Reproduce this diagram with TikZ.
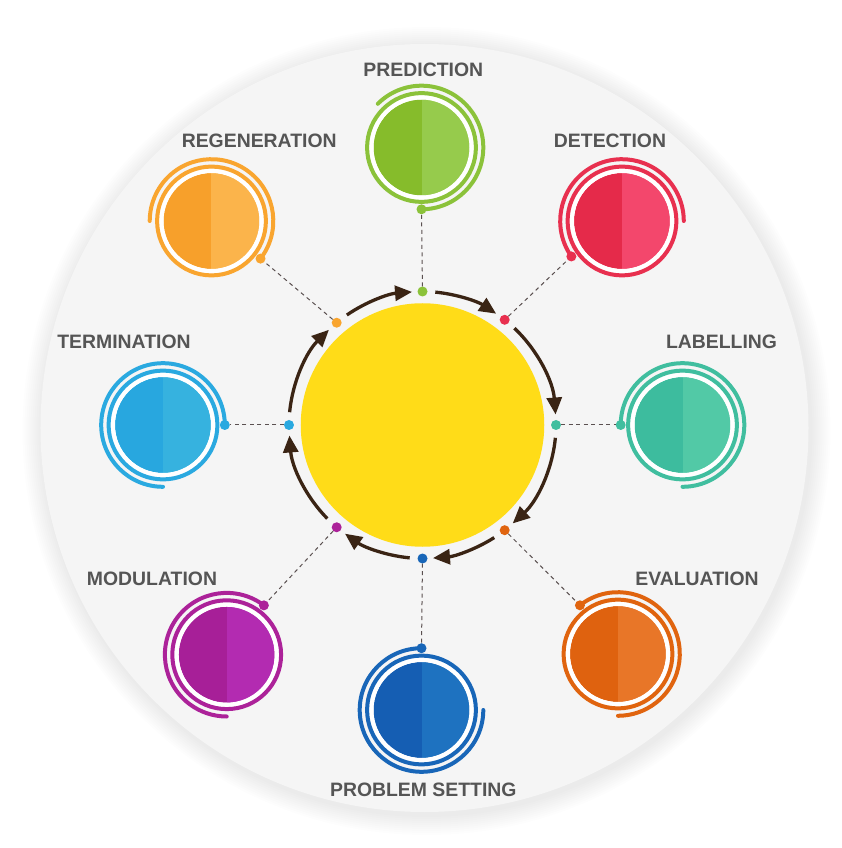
\documentclass[tikz,border=0pt]{standalone}
\usepackage{fontspec}
\setmainfont{Liberation Sans}
\usetikzlibrary{arrows.meta}
\definecolor{predD}{HTML}{86BC2B}\definecolor{predL}{HTML}{96CB4C}\definecolor{predR}{HTML}{8BC23A}
\definecolor{detD}{HTML}{E52A4A}\definecolor{detL}{HTML}{F3476C}\definecolor{detR}{HTML}{E8304F}
\definecolor{labD}{HTML}{3DBC9E}\definecolor{labL}{HTML}{52C9A6}\definecolor{labR}{HTML}{40BE9F}
\definecolor{evaD}{HTML}{DF620F}\definecolor{evaL}{HTML}{E87628}\definecolor{evaR}{HTML}{E0640F}
\definecolor{proD}{HTML}{155EB3}\definecolor{proL}{HTML}{1E72C0}\definecolor{proR}{HTML}{1866B8}
\definecolor{modD}{HTML}{A71F98}\definecolor{modL}{HTML}{B32BB1}\definecolor{modR}{HTML}{AC2299}
\definecolor{terD}{HTML}{28A7DF}\definecolor{terL}{HTML}{36B2DF}\definecolor{terR}{HTML}{2AA9E0}
\definecolor{regD}{HTML}{F7A02B}\definecolor{regL}{HTML}{FBB44B}\definecolor{regR}{HTML}{F9A52F}
\definecolor{hubyellow}{HTML}{FFDC18}
\definecolor{arrowbrown}{HTML}{3A2414}
\definecolor{labelgray}{HTML}{555555}
\definecolor{linkgray}{HTML}{5A5050}
\definecolor{bggray}{HTML}{F5F5F5}
\newcommand\sat[8]{%
  \node[disc=#3, path picture={\fill[#4] (path picture bounding box.south) rectangle (path picture bounding box.north east);}] (#1) at (#2) {};
  \draw[white, line width=4.4pt] (#1.center) circle[radius=50.2];
  \draw[#5, line width=4pt] (#1.center) circle[radius=54.4];
  \draw[#5, line width=4pt, line cap=round] (#1.center) ++(#6:61.8) arc[start angle=#6, end angle=#7, radius=61.8];
  \node[cdot=#5] (#1-o) at ([shift={(#6:61.8)}]#1.center) {};
  \node[cdot=#5] (#1-i) at (#8:133.5) {};
  \draw[link] (#1-i) -- (#1-o);
}
\begin{document}
\begin{tikzpicture}[x=1pt,y=1pt,
  lbl/.style={font=\fontsize{19.4}{22}\selectfont\bfseries, text=labelgray, inner sep=0pt},
  disc/.style={circle, minimum size=96pt, inner sep=0pt, fill=#1},
  cdot/.style={circle, minimum size=10pt, inner sep=0pt, fill=#1},
  link/.style={draw=linkgray, line width=1pt, dash pattern=on 4pt off 3.5pt},
  flow/.style={draw=arrowbrown, line width=3.3pt, -{Triangle[length=17pt,width=15pt]}},
]
\useasboundingbox (-422.5,-423) rectangle (419.5,425);
\fill[white] (-422.5,-423) rectangle (419.5,425);
\foreach \k in {1,...,10} \fill[black, opacity=0.008] (4,-6) circle[radius=384+\k*2];
\fill[bggray] (2,-3) circle[radius=384];

\node[circle, fill=hubyellow, minimum size=243.5pt, inner sep=0pt] (hub) at (0,0) {};

\sat{pred}{-1,277.5}{predD}{predL}{predR}{-90}{135}{90}
\sat{det}{199.5,204}{detD}{detL}{detR}{215}{0}{52}
\sat{lab}{260,0}{labD}{labL}{labR}{180}{-90}{0}
\sat{eva}{195.5,-229}{evaD}{evaL}{evaR}{128}{-90}{-52}
\sat{pro}{-1,-285}{proD}{proL}{proR}{90}{360}{-90}
\sat{mod}{-195.8,-229.7}{modD}{modL}{modR}{53}{270}{-130}
\sat{ter}{-259.5,0}{terD}{terL}{terR}{0}{270}{180}
\sat{reg}{-211,204}{regD}{regL}{regR}{-37.5}{180}{130}

\foreach \a/\b in {124.5/94.5, 84.5/56.5, 46.5/4.5, -5.5/-47.5, -57.5/-85.5, -95.5/-125.5, -135.5/-175.5, 174.5/134.5}
  \draw[flow] (hub.center) ++(\a:133.5) arc[start angle=\a, end angle=\b, radius=133.5];

\node[lbl] (t-pred) at (0.8,354.7) {PREDICTION};
\node[lbl] (t-det) at (187.5,284.3) {DETECTION};
\node[lbl] (t-lab) at (299,83.3) {LABELLING};
\node[lbl] (t-eva) at (274.5,-153.8) {EVALUATION};
\node[lbl] (t-pro) at (0.8,-365) {PROBLEM SETTING};
\node[lbl] (t-mod) at (-270.5,-153.8) {MODULATION};
\node[lbl] (t-ter) at (-298.5,83.5) {TERMINATION};
\node[lbl] (t-reg) at (-163.3,283.8) {REGENERATION};
\end{tikzpicture}
\end{document}
